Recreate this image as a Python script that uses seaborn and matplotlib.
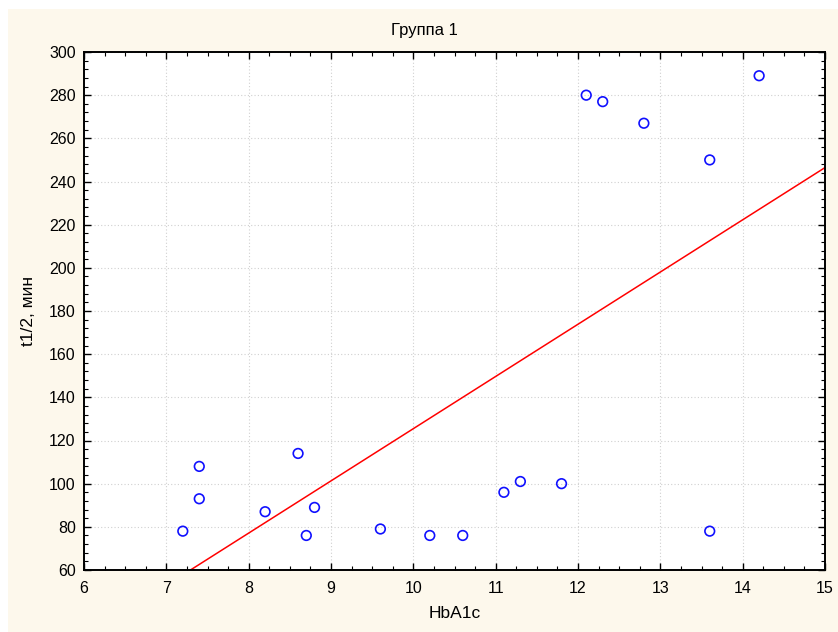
import matplotlib
matplotlib.use("Agg")
import matplotlib.pyplot as plt
import seaborn as sns
import pandas as pd
from matplotlib.ticker import MultipleLocator
from matplotlib.patches import Rectangle

hba1c = [7.2, 7.4, 7.4, 8.2, 8.6, 8.7, 8.8, 9.6, 10.2, 10.6, 11.1, 11.3, 11.8,
         12.1, 12.3, 12.8, 13.6, 13.6, 14.2]
t_half = [78, 108, 93, 87, 114, 76, 89, 79, 76, 76, 96, 101, 100,
          280, 277, 267, 250, 78, 289]
title = "Группа 1"
xlabel = "HbA1c"
ylabel = "t1/2, мин"

df = pd.DataFrame({"x": hba1c, "y": t_half})

sns.set_theme(style="white")
plt.rcParams['font.family'] = ['Liberation Sans', 'DejaVu Sans']

fig = plt.figure(figsize=(8.38, 6.32), dpi=100)
fig.patch.set_facecolor("white")
fig.add_artist(Rectangle((8/838, 0), 1, 1 - 9/632, transform=fig.transFigure,
                         facecolor="#fdf8ec", edgecolor="none", zorder=-10))
ax = fig.add_axes([84/838, 1 - 570/632, (825-84)/838, (570-52)/632])
ax.set_facecolor("white")
ax.set_xlim(6, 15)
ax.set_ylim(60, 300)

sns.regplot(data=df, x="x", y="y", ax=ax, scatter=False, ci=None, truncate=False,
            line_kws=dict(color="red", lw=1.1))
sns.scatterplot(data=df, x="x", y="y", ax=ax, marker="o", s=48,
                facecolor="none", edgecolor="#1010ff", linewidth=1.2, zorder=5)
ax.set_xlim(6, 15)
ax.set_ylim(60, 300)

ax.xaxis.set_major_locator(MultipleLocator(1))
ax.xaxis.set_minor_locator(MultipleLocator(0.25))
ax.yaxis.set_major_locator(MultipleLocator(20))
ax.yaxis.set_minor_locator(MultipleLocator(4))
ax.tick_params(which="both", direction="in", top=True, right=True, bottom=True, left=True,
               color="black", labelsize=11.5, labelcolor="black")
ax.tick_params(which="major", length=5, width=1)
ax.tick_params(which="minor", length=3, width=0.8)
ax.tick_params(axis="x", pad=8)
ax.tick_params(axis="y", pad=6)
ax.grid(True, which="major", color="#d0d0d0", linestyle=(0, (1, 2)), linewidth=0.8)
for s in ax.spines.values():
    s.set_color("black")
    s.set_linewidth(1.4)

ax.set_xlabel(xlabel, fontsize=12.5, color="black", labelpad=7)
ax.set_ylabel(ylabel, fontsize=12.5, color="black", labelpad=9)
fig.text(424/838, 1 - 30/632, title, fontsize=12, color="black", ha="center", va="center")

fig.savefig("out.png", dpi=100)
